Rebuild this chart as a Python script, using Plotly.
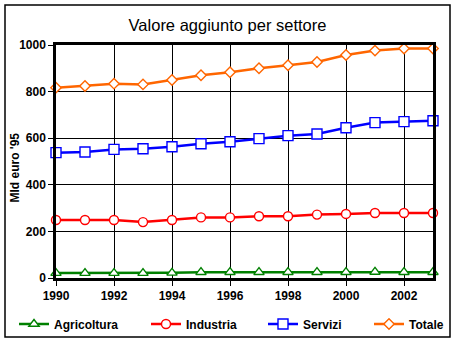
import plotly.graph_objects as go

years = list(range(1990, 2004))
agricoltura = [21, 21, 21, 21, 22, 25, 25, 25, 25, 25, 25, 26, 25, 25]
industria = [249, 249, 249, 240, 249, 260, 260, 265, 265, 272, 275, 279, 279, 279]
servizi = [538, 541, 552, 555, 563, 576, 585, 598, 611, 618, 645, 667, 671, 675]
totale = [817, 824, 834, 831, 850, 870, 883, 900, 913, 927, 957, 976, 985, 985]

x_ticks = [1990, 1992, 1994, 1996, 1998, 2000, 2002]
y_ticks = [0, 200, 400, 600, 800, 1000]

FONT = "Liberation Sans, Arial, sans-serif"

# (name, values, colour, symbol, size, legend id, legend sample start px)
series = [
    ("Agricoltura", agricoltura, "#008000", "triangle-up", 9, "legend", 19),
    ("Industria", industria, "#FF0000", "circle", 9, "legend2", 151),
    ("Servizi", servizi, "#0000FF", "square", 10, "legend3", 268),
    ("Totale", totale, "#FF6600", "diamond", 8, "legend4", 374),
]

PL, PT, PW, PH = 56, 45, 377, 233

fig = go.Figure()
legends = {}
for name, vals, color, sym, size, leg, lx in series:
    fig.add_trace(go.Scatter(
        x=years, y=vals, name=name, mode="lines+markers",
        line=dict(color=color, width=2.5),
        marker=dict(symbol=sym, size=size, color="white",
                    line=dict(color=color, width=1.4)),
        cliponaxis=False, legend=leg,
    ))
    legends[leg] = dict(orientation="h", x=(lx - 5 - PL) / PW, xanchor="left",
                        y=(PT + PH - 324) / PH, yanchor="middle",
                        font=dict(family=FONT, size=12, weight="bold"),
                        itemwidth=30, bgcolor="rgba(0,0,0,0)",
                        borderwidth=0)

fig.update_layout(
    width=455, height=343,
    margin=dict(l=PL, r=455 - PL - PW, t=PT, b=343 - PT - PH, autoexpand=False),
    paper_bgcolor="white", plot_bgcolor="white",
    font=dict(family=FONT, color="black", size=12),
    title=dict(text="Valore aggiunto per settore", x=0.5, xanchor="center",
               y=1 - 25 / 343, yanchor="middle",
               font=dict(family=FONT, size=16.5, color="black")),
    showlegend=True,
    xaxis=dict(range=[1990, 2003], tickvals=x_ticks,
               ticktext=[str(v) for v in x_ticks],
               showgrid=True, gridcolor="black", gridwidth=1,
               showline=True, linecolor="black", linewidth=2.5, mirror=True,
               ticks="outside", ticklen=5, tickcolor="black",
               tickfont=dict(family=FONT, size=12, weight="bold"),
               zeroline=False),
    yaxis=dict(range=[0, 1000], tickvals=y_ticks,
               showgrid=True, gridcolor="black", gridwidth=1,
               showline=True, linecolor="black", linewidth=2.5, mirror=True,
               ticks="outside", ticklen=5, tickcolor="black",
               tickfont=dict(family=FONT, size=12, weight="bold"),
               zeroline=False),
    annotations=[dict(text="Mld euro '95", textangle=-90, xref="paper", yref="paper",
                      x=(14.5 - PL) / PW, y=(PT + PH - 168) / PH,
                      xanchor="center", yanchor="middle", showarrow=False,
                      font=dict(family=FONT, size=12, weight="bold"))],
    shapes=[dict(type="rect", xref="paper", yref="paper",
                 x0=(5 - PL) / PW, x1=(450 - PL) / PW,
                 y0=(PT + PH - 337) / PH, y1=(PT + PH - 5) / PH,
                 line=dict(color="black", width=1.5), layer="below")],
    **legends,
)

fig.write_html("out.html")
